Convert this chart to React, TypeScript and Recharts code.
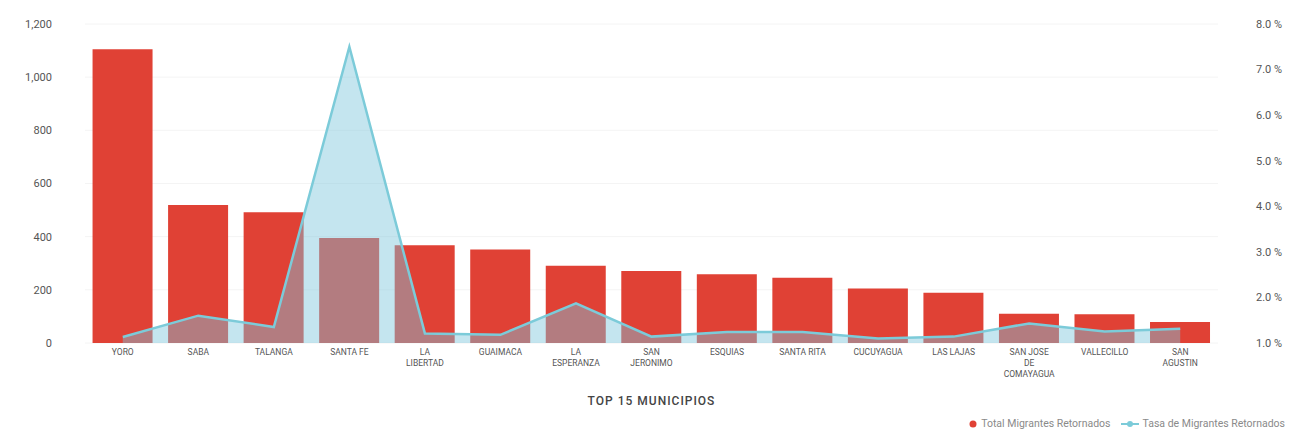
import React from 'react';
import {
  ComposedChart,
  Bar,
  Area,
  XAxis,
  YAxis,
  CartesianGrid,
} from 'recharts';

// datos
const municipios = [
  'YORO',
  'SABA',
  'TALANGA',
  'SANTA FE',
  'LA LIBERTAD',
  'GUAIMACA',
  'LA ESPERANZA',
  'SAN JERONIMO',
  'ESQUIAS',
  'SANTA RITA',
  'CUCUYAGUA',
  'LAS LAJAS',
  'SAN JOSE DE COMAYAGUA',
  'VALLECILLO',
  'SAN AGUSTIN',
];

const totalRetornados = [1105, 519, 492, 395, 368, 352, 291, 271, 259, 245, 205, 189, 110, 108, 79];

const tasaRetornados = [1.13, 1.6, 1.35, 7.5, 1.21, 1.18, 1.87, 1.14, 1.24, 1.24, 1.1, 1.14, 1.43, 1.25, 1.31];

const ticksIzq = [0, 200, 400, 600, 800, 1000, 1200];
const ticksDer = [1, 2, 3, 4, 5, 6, 7, 8];

const data = municipios.map((name, i) => ({
  name,
  total: totalRetornados[i],
  tasa: tasaRetornados[i],
}));

const ROJO = '#e04135';
const CELESTE = '#7ccbd9';
const FUENTE = 'Roboto, "DejaVu Sans", sans-serif';

// parte el nombre en líneas de máximo 10 caracteres
function partir(texto: string) {
  const lineas: string[] = [];
  let actual = '';
  texto.split(' ').forEach((w) => {
    const prueba = actual ? actual + ' ' + w : w;
    if (prueba.length > 10 && actual) {
      lineas.push(actual);
      actual = w;
    } else {
      actual = prueba;
    }
  });
  if (actual) lineas.push(actual);
  return lineas;
}

function TickMunicipio(props: any) {
  const { x, y, payload } = props;
  const lineas = partir(payload.value);
  return (
    <text x={x} y={y} textAnchor="middle" fill="#555" fontSize={8.5} fontFamily={FUENTE}>
      {lineas.map((l, i) => (
        <tspan key={i} x={x} dy={i === 0 ? '0.9em' : 11}>
          {l}
        </tspan>
      ))}
    </text>
  );
}

export default function App() {
  return (
    <div style={{ width: 1277, fontFamily: FUENTE }}>
      <ComposedChart
        width={1277}
        height={409}
        data={data}
        margin={{ top: 16, right: 0, left: 0, bottom: 10 }}
        barCategoryGap="10%"
      >
        <CartesianGrid vertical={false} stroke="#f4f4f4" yAxisId="izq" />
        <XAxis
          dataKey="name"
          interval={0}
          axisLine={false}
          tickLine={false}
          tickSize={0}
          tickMargin={4}
          height={64}
          tick={<TickMunicipio />}
          label={{
            value: 'TOP 15 MUNICIPIOS',
            position: 'insideBottom',
            offset: 2,
            fill: '#444',
            fontSize: 12,
            fontWeight: 500,
            letterSpacing: 1,
            fontFamily: FUENTE,
          }}
        />
        <YAxis
          yAxisId="izq"
          width={77}
          domain={[0, 1200]}
          ticks={ticksIzq}
          axisLine={false}
          tickLine={false}
          tickSize={0}
          tickMargin={33}
          tick={{ fill: '#555', fontSize: 11, fontFamily: FUENTE }}
          tickFormatter={(v: number) => v.toLocaleString('en-US')}
        />
        <YAxis
          yAxisId="der"
          orientation="right"
          width={67}
          domain={[1, 8]}
          ticks={ticksDer}
          axisLine={false}
          tickLine={false}
          tickSize={0}
          tickMargin={38}
          tick={{ fill: '#555', fontSize: 11, fontFamily: FUENTE, textAnchor: 'start' }}
          tickFormatter={(v: number) => `${v.toFixed(1)} %`}
        />
        <Bar yAxisId="izq" dataKey="total" fill={ROJO} isAnimationActive={false} zIndex={300} />
        <Area
          yAxisId="der"
          type="linear"
          dataKey="tasa"
          stroke={CELESTE}
          strokeWidth={2.5}
          fill="#7cc6dc"
          fillOpacity={0.45}
          dot={false}
          activeDot={false}
          isAnimationActive={false}
          zIndex={600}
        />
      </ComposedChart>
      {/* leyenda abajo a la derecha */}
      <div
        style={{
          display: 'flex',
          justifyContent: 'flex-end',
          alignItems: 'center',
          gap: 10,
          fontSize: 10.5,
          color: '#8a8a8a',
          height: 14,
          lineHeight: '14px',
        }}
      >
        <span style={{ display: 'flex', alignItems: 'center', gap: 4 }}>
          <svg width={8} height={8}>
            <circle cx={4} cy={4} r={3.5} fill={ROJO} />
          </svg>
          Total Migrantes Retornados
        </span>
        <span style={{ display: 'flex', alignItems: 'center', gap: 4 }}>
          <svg width={18} height={8}>
            <line x1={0} y1={4} x2={18} y2={4} stroke={CELESTE} strokeWidth={2} />
            <circle cx={9} cy={4} r={3} fill={CELESTE} />
          </svg>
          Tasa de Migrantes Retornados
        </span>
      </div>
    </div>
  );
}
